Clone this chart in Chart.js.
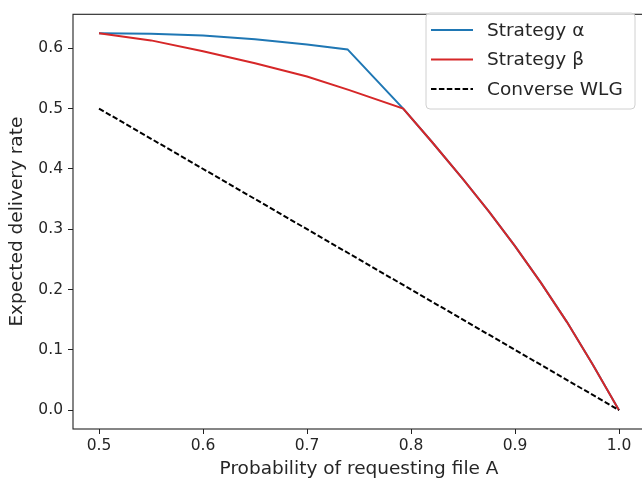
<!DOCTYPE html>
<html>
<head>
<meta charset="utf-8">
<script src="https://cdn.jsdelivr.net/npm/chart.js@4"></script>
<style>
html,body{margin:0;padding:0;background:#fff;overflow:hidden;width:642px;height:487px;}
canvas{display:block;}
</style>
</head>
<body>
<canvas id="c" width="646" height="487"></canvas>
<script>
// ---- data ----
const seriesLabels = ['Strategy α', 'Strategy β', 'Converse WLG'];
const xAlpha = [0.5, 0.55, 0.6, 0.65, 0.7, 0.739, 0.7925, 0.82, 0.85, 0.875, 0.9, 0.925, 0.95, 0.975, 1.0];
const yAlpha = [0.625, 0.624, 0.621, 0.615, 0.606, 0.598, 0.5, 0.445, 0.383, 0.329, 0.272, 0.211, 0.146, 0.075, 0.0];
const xBeta  = [0.5, 0.55, 0.6, 0.65, 0.7, 0.74, 0.7925, 0.82, 0.85, 0.875, 0.9, 0.925, 0.95, 0.975, 1.0];
const yBeta  = [0.625, 0.613, 0.595, 0.575, 0.553, 0.531, 0.5, 0.445, 0.383, 0.329, 0.272, 0.211, 0.146, 0.075, 0.0];
const xConv  = [0.5, 1.0];
const yConv  = [0.5, 0.0];
const xTicks = [0.5, 0.6, 0.7, 0.8, 0.9, 1.0];
const yTicks = [0.0, 0.1, 0.2, 0.3, 0.4, 0.5, 0.6];
const xTitle = 'Probability of requesting file A';
const yTitle = 'Expected delivery rate';

const pts = (xs, ys) => xs.map((x, i) => ({x: x, y: ys[i]}));
const FONT = 'DejaVu Sans';
const TXT = '#262626';

const frame = {
  id: 'frame',
  afterDraw(chart) {
    const {ctx, chartArea: a} = chart;
    ctx.save();
    ctx.strokeStyle = '#222';
    ctx.lineWidth = 1.1;
    ctx.strokeRect(a.left, a.top, a.right - a.left, a.bottom - a.top);
    // legend
    const lx = 426, ly = 13, lw = 209, lh = 96, r = 4;
    ctx.beginPath();
    ctx.moveTo(lx + r, ly);
    ctx.arcTo(lx + lw, ly, lx + lw, ly + lh, r);
    ctx.arcTo(lx + lw, ly + lh, lx, ly + lh, r);
    ctx.arcTo(lx, ly + lh, lx, ly, r);
    ctx.arcTo(lx, ly, lx + lw, ly, r);
    ctx.closePath();
    ctx.fillStyle = 'rgba(255,255,255,0.8)';
    ctx.fill();
    ctx.strokeStyle = '#d0d0d0';
    ctx.lineWidth = 1;
    ctx.stroke();
    const ds = chart.data.datasets;
    ds.forEach((d, i) => {
      const y = 30 + i * 29.5;
      ctx.beginPath();
      ctx.setLineDash(d.borderDash || []);
      ctx.strokeStyle = d.borderColor;
      ctx.lineWidth = d.borderWidth;
      ctx.moveTo(431, y);
      ctx.lineTo(473, y);
      ctx.stroke();
      ctx.setLineDash([]);
      ctx.fillStyle = TXT;
      ctx.font = '18.5px "' + FONT + '"';
      ctx.textBaseline = 'middle';
      ctx.textAlign = 'left';
      ctx.fillText(d.label, 487, y + 1);
    });
    ctx.restore();
  }
};

new Chart(document.getElementById('c'), {
  type: 'line',
  data: {
    datasets: [
      {label: seriesLabels[0], data: pts(xAlpha, yAlpha), borderColor: '#1f77b4', borderWidth: 2, pointRadius: 0, tension: 0, fill: false, order: 2},
      {label: seriesLabels[1], data: pts(xBeta, yBeta), borderColor: '#d62728', borderWidth: 2, pointRadius: 0, tension: 0, fill: false, order: 1},
      {label: seriesLabels[2], data: pts(xConv, yConv), borderColor: '#000000', borderWidth: 2, borderDash: [5.5, 2.4], pointRadius: 0, tension: 0, fill: false, order: 0}
    ]
  },
  options: {
    responsive: false,
    animation: false,
    devicePixelRatio: 1,
    layout: {padding: {top: 3, right: 1, bottom: 0, left: 0}},
    plugins: {legend: {display: false}, tooltip: {enabled: false}},
    scales: {
      x: {
        type: 'linear', min: 0.475, max: 1.025,
        afterBuildTicks: s => { s.ticks = xTicks.map(v => ({value: v})); },
        afterFit: s => { s.height = 58; },
        grid: {drawOnChartArea: false, drawTicks: true, tickLength: 5, tickColor: '#222', tickWidth: 1},
        border: {display: false},
        ticks: {padding: 3, color: TXT, font: {family: FONT, size: 15.5}, maxRotation: 0, callback: v => Number(v).toFixed(1)},
        title: {display: true, text: xTitle, color: TXT, font: {family: FONT, size: 18.5}, padding: {top: 0, bottom: 7}}
      },
      y: {
        type: 'linear', min: -0.03125, max: 0.65625,
        afterBuildTicks: s => { s.ticks = yTicks.map(v => ({value: v})); },
        afterFit: s => { s.width = 73; },
        grid: {drawOnChartArea: false, drawTicks: true, tickLength: 5, tickColor: '#222', tickWidth: 1},
        border: {display: false},
        ticks: {padding: 5, color: TXT, font: {family: FONT, size: 15.5}, callback: v => Number(v).toFixed(1)},
        title: {display: true, text: yTitle, color: TXT, font: {family: FONT, size: 18.5}, padding: {top: 6, bottom: 0}}
      }
    }
  },
  plugins: [frame]
});
</script>
</body>
</html>
